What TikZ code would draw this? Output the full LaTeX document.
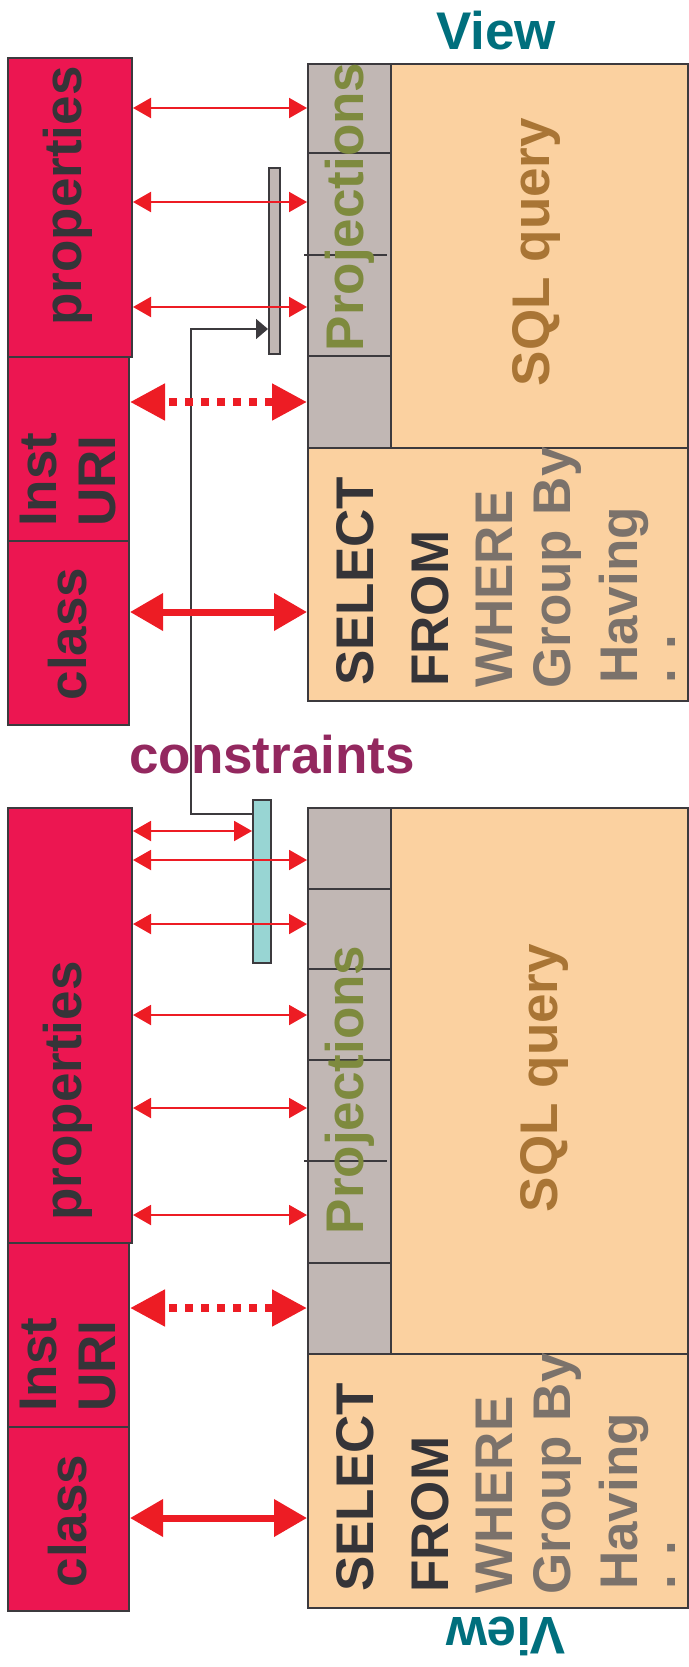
\documentclass[tikz,border=0pt]{standalone}
\usepackage{fontspec}
\setmainfont{Liberation Sans}
\usetikzlibrary{arrows.meta}
\definecolor{boxred}{HTML}{EC1651}
\definecolor{outl}{HTML}{3C3A3E}
\definecolor{darktxt}{HTML}{353438}
\definecolor{grayfill}{HTML}{C1B7B4}
\definecolor{orangefill}{HTML}{FBD1A0}
\definecolor{olive}{HTML}{7E8A3E}
\definecolor{sqlbrown}{HTML}{A97535}
\definecolor{clausegray}{HTML}{7B726B}
\definecolor{viewteal}{HTML}{006F7D}
\definecolor{constrpurple}{HTML}{93285F}
\definecolor{tealbar}{HTML}{98D5D3}
\definecolor{arrowred}{HTML}{ED1C24}
\begin{document}
\begin{tikzpicture}[x=1pt,y=-1pt,
  box/.style={draw=outl, line width=2pt, inner sep=0pt, anchor=north west},
  lbl/.style={font=\fontsize{53}{60}\selectfont\bfseries, inner sep=0pt},
  upward/.style={lbl, rotate=90},
  thinarrow/.style={draw=arrowred, line width=2pt, {Triangle[length=18pt,width=20pt]}-{Triangle[length=18pt,width=20pt]}},
  dotarrow/.style={draw=arrowred, line width=8pt, dash pattern=on 8pt off 8pt, dash phase=10pt, {Triangle[length=35pt,width=35pt]}-{Triangle[length=35pt,width=35pt]}},
  thickarrow/.style={draw=arrowred, line width=7pt, {Triangle[length=33pt,width=36pt]}-{Triangle[length=33pt,width=36pt]}},
  link/.style={draw=outl, line width=1.6pt},
  divider/.style={draw=outl, line width=2pt}]
\useasboundingbox (0,0) rectangle (688,1667);

% ---------------- upper view ----------------
\node[box, fill=boxred, minimum width=124pt, minimum height=299pt] (props1) at (7,57) {};
\node[box, fill=boxred, minimum width=121pt, minimum height=184pt] (inst1) at (7,356) {};
\node[box, fill=boxred, minimum width=121pt, minimum height=184pt] (class1) at (7,540) {};
\node[box, fill=grayfill, minimum width=83pt, minimum height=384pt] (proj1) at (307,63) {};
\node[box, fill=orangefill, minimum width=297pt, minimum height=384pt] (sql1) at (390,63) {};
\node[box, fill=orangefill, minimum width=380pt, minimum height=253pt] (sel1) at (307,447) {};
\draw[divider] (307,153) -- (390,153);
\draw[divider] (307,356) -- (390,356);
\draw[divider] (304,255) -- (387,255);
\node[box, fill=grayfill, line width=1.8pt, minimum width=11pt, minimum height=186pt] (bar1) at (268,167) {};

\node[lbl, text=viewteal, anchor=base] (view1) at (496,50) {View};
\node[upward, text=darktxt, anchor=base] (propstxt1) at (81,196) {properties};
\node[upward, text=darktxt, anchor=base west] (insttxt1) at (56,527) {Inst};
\node[upward, text=darktxt, anchor=base west] (uritxt1) at (115,527) {URI};
\node[upward, text=darktxt, anchor=base] (classtxt1) at (86,634) {class};
\node[upward, text=olive, anchor=base] (projtxt1) at (363,207) {Projections};
\node[upward, text=sqlbrown, anchor=base] (sqltxt1) at (549,252) {SQL query};
\node[upward, text=darktxt, anchor=base west] (s1a) at (373,686) {SELECT};
\node[upward, text=darktxt, anchor=base west] (s1b) at (448,687) {FROM};
\node[upward, text=clausegray, anchor=base west] (s1c) at (512,688) {WHERE};
\node[upward, text=clausegray, anchor=base west] (s1d) at (570,689) {Group By};
\node[upward, text=clausegray, anchor=base west] (s1e) at (637,684) {Having};
\node[upward, text=clausegray, anchor=base west] (s1f) at (675,684) {. .};

% ---------------- constraints ----------------
\node[lbl, text=constrpurple, anchor=base] (constr) at (272,773) {constraints};

% ---------------- lower view ----------------
\node[box, fill=boxred, minimum width=124pt, minimum height=435pt] (props2) at (7,807) {};
\node[box, fill=boxred, minimum width=121pt, minimum height=184pt] (inst2) at (7,1242) {};
\node[box, fill=boxred, minimum width=121pt, minimum height=184pt] (class2) at (7,1426) {};
\node[box, fill=grayfill, minimum width=83pt, minimum height=546pt] (proj2) at (307,807) {};
\node[box, fill=orangefill, minimum width=297pt, minimum height=546pt] (sql2) at (390,807) {};
\node[box, fill=orangefill, minimum width=380pt, minimum height=254pt] (sel2) at (307,1353) {};
\draw[divider] (307,889) -- (390,889);
\draw[divider] (307,969) -- (390,969);
\draw[divider] (307,1060) -- (390,1060);
\draw[divider] (307,1263) -- (390,1263);
\draw[divider] (304,1161) -- (387,1161);
\node[box, fill=tealbar, line width=1.8pt, minimum width=18pt, minimum height=163pt] (bar2) at (252,799) {};

\node[upward, text=darktxt, anchor=base] (propstxt2) at (81,1091) {properties};
\node[upward, text=darktxt, anchor=base west] (insttxt2) at (56,1412) {Inst};
\node[upward, text=darktxt, anchor=base west] (uritxt2) at (115,1412) {URI};
\node[upward, text=darktxt, anchor=base] (classtxt2) at (86,1521) {class};
\node[upward, text=olive, anchor=base] (projtxt2) at (363,1090) {Projections};
\node[upward, text=sqlbrown, anchor=base] (sqltxt2) at (557,1078) {SQL query};
\node[upward, text=darktxt, anchor=base west] (s2a) at (373,1592) {SELECT};
\node[upward, text=darktxt, anchor=base west] (s2b) at (448,1593) {FROM};
\node[upward, text=clausegray, anchor=base west] (s2c) at (512,1594) {WHERE};
\node[upward, text=clausegray, anchor=base west] (s2d) at (570,1595) {Group By};
\node[upward, text=clausegray, anchor=base west] (s2e) at (637,1590) {Having};
\node[upward, text=clausegray, anchor=base west] (s2f) at (675,1590) {. .};
\node[lbl, text=viewteal, anchor=base, rotate=180] (view2) at (506,1617) {View};

% ---------------- connector between bars ----------------
\coordinate (lk1) at (191,814);
\coordinate (lk2) at (191,329);
\draw[link, -{Triangle[length=12pt,width=20pt]}] (bar2.west |- lk1) -- (lk1) -- (lk2) -- (bar1.west |- lk2);

% ---------------- arrows ----------------
\foreach \yy in {108,202,307} {
  \coordinate (ya) at (0,\yy);
  \draw[thinarrow] (props1.east |- ya) -- (proj1.west |- ya);
}
\coordinate (yd1) at (0,402);
\draw[dotarrow] (inst1.east |- yd1) -- (proj1.west |- yd1);
\coordinate (yc1) at (0,612);
\draw[thickarrow] (class1.east |- yc1) -- (sel1.west |- yc1);

\coordinate (yb) at (0,831);
\draw[thinarrow] (props2.east |- yb) -- (bar2.west |- yb);
\foreach \yy in {860,924,1015,1108,1215} {
  \coordinate (ya) at (0,\yy);
  \draw[thinarrow] (props2.east |- ya) -- (proj2.west |- ya);
}
\coordinate (yd2) at (0,1308);
\draw[dotarrow] (inst2.east |- yd2) -- (proj2.west |- yd2);
\coordinate (yc2) at (0,1518);
\draw[thickarrow] (class2.east |- yc2) -- (sel2.west |- yc2);
\end{tikzpicture}
\end{document}
